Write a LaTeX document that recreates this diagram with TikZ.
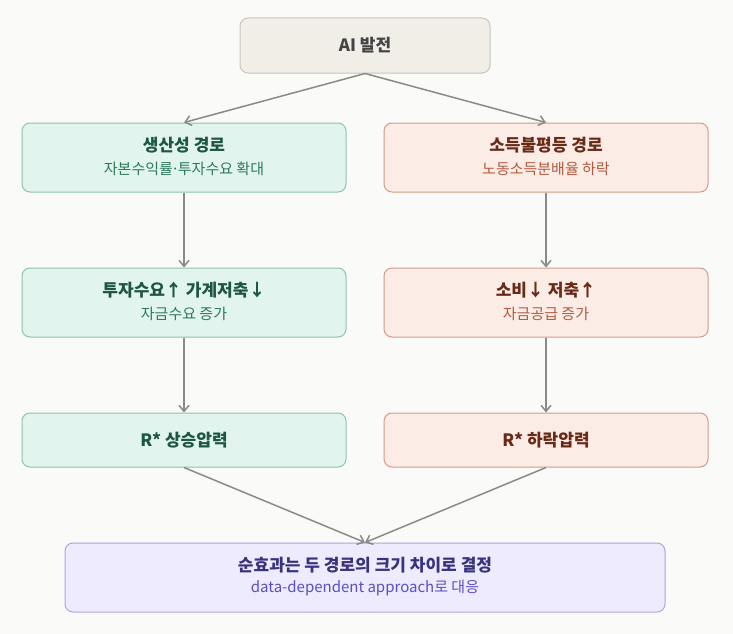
\documentclass[tikz,border=0pt]{standalone}
\usepackage{fontspec}
\setmainfont{Noto Sans CJK KR}
\usetikzlibrary{arrows.meta}
\definecolor{bg}{HTML}{FAFAF8}
\definecolor{arr}{HTML}{8A8A86}
\definecolor{topfill}{HTML}{F1EEE7}
\definecolor{topdraw}{HTML}{C9C5BC}
\definecolor{toptext}{HTML}{444444}
\definecolor{gfill}{HTML}{E2F4EE}
\definecolor{gdraw}{HTML}{8EC3AD}
\definecolor{gtitle}{HTML}{1D5641}
\definecolor{gsub}{HTML}{2C7A5C}
\definecolor{rfill}{HTML}{FBECE6}
\definecolor{rdraw}{HTML}{D49B89}
\definecolor{rtitle}{HTML}{6A2A18}
\definecolor{rsub}{HTML}{B25A3E}
\definecolor{pfill}{HTML}{EDEBFD}
\definecolor{pdraw}{HTML}{ABA6E3}
\definecolor{ptitle}{HTML}{38337E}
\definecolor{psub}{HTML}{5A4FC6}
\tikzset{
  box/.style={rounded corners=8pt, line width=1pt, inner sep=0pt},
  gbox/.style={box, fill=gfill, draw=gdraw, minimum width=324pt},
  rbox/.style={box, fill=rfill, draw=rdraw, minimum width=324pt},
  ttl/.style={font=\fontsize{17}{20}\selectfont\bfseries, inner sep=0pt},
  sub/.style={font=\fontsize{15}{18}\selectfont, inner sep=0pt},
  conn/.style={draw=arr, line width=1.5pt, -{Straight Barb[length=6pt,width=10pt]}},
}
\begin{document}
\begin{tikzpicture}[x=1pt,y=-1pt]
\fill[bg] (0,0) rectangle (733,634);
\useasboundingbox (0,0) rectangle (733,634);

\node[box, fill=topfill, draw=topdraw, minimum width=250pt, minimum height=55pt] (ai) at (365,45.5) {};
\node[ttl, text=toptext] (aiT) at (365,45.5) {AI 발전};

\node[gbox, minimum height=69pt] (p1) at (184,157.5) {};
\node[ttl, text=gtitle] (p1T) at (184,145.5) {생산성 경로};
\node[sub, text=gsub] (p1S) at (184,168.5) {자본수익률\makebox[5pt]{·}투자수요 확대};

\node[rbox, minimum height=69pt] (q1) at (546,157.5) {};
\node[ttl, text=rtitle] (q1T) at (546,145.5) {소득불평등 경로};
\node[sub, text=rsub] (q1S) at (546,168.5) {노동소득분배율 하락};

\node[gbox, minimum height=69pt] (p2) at (184,302.5) {};
\node[ttl, text=gtitle] (p2T) at (184,290.5) {투자수요↑ 가계저축↓};
\node[sub, text=gsub] (p2S) at (184,313.5) {자금수요 증가};

\node[rbox, minimum height=69pt] (q2) at (546,302.5) {};
\node[ttl, text=rtitle] (q2T) at (546,290.5) {소비↓ 저축↑};
\node[sub, text=rsub] (q2S) at (546,313.5) {자금공급 증가};

\node[gbox, minimum height=54pt] (p3) at (184,440) {};
\node[ttl, text=gtitle] (p3T) at (184,440) {R* 상승압력};

\node[rbox, minimum height=54pt] (q3) at (546,440) {};
\node[ttl, text=rtitle] (q3T) at (546,440) {R* 하락압력};

\node[box, fill=pfill, draw=pdraw, minimum width=600pt, minimum height=69pt] (fin) at (365,577.5) {};
\node[ttl, text=ptitle] (finT) at (365,565.5) {순효과는 두 경로의 크기 차이로 결정};
\node[sub, text=psub] (finS) at (365,588.5) {data-dependent approach로 대응};

\draw[conn] (ai.south) -- (p1.north);
\draw[conn] (ai.south) -- (q1.north);
\draw[conn] (p1.south) -- (p2.north);
\draw[conn] (q1.south) -- (q2.north);
\draw[conn] (p2.south) -- (p3.north);
\draw[conn] (q2.south) -- (q3.north);
\draw[conn] (p3.south) -- (fin.north);
\draw[conn] (q3.south) -- (fin.north);
\end{tikzpicture}
\end{document}
